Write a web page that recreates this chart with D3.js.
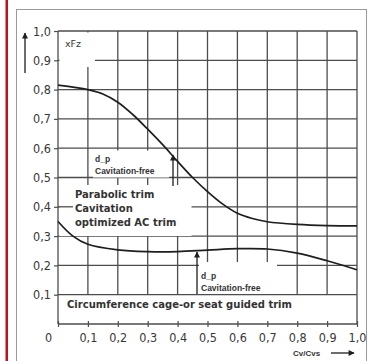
<!DOCTYPE html>
<html>
<head>
<meta charset="utf-8">
<script src="https://cdn.jsdelivr.net/npm/d3@7"></script>
<style>
  html, body { margin: 0; padding: 0; background: #fff; }
  svg { display: block; }
</style>
</head>
<body>
<svg id="chart" width="372" height="361"></svg>
<script>
// ── Data ──
const upperX = [0, 0.1, 0.15, 0.2, 0.25, 0.3, 0.35, 0.4, 0.45, 0.5, 0.55, 0.6, 0.65, 0.7, 0.8, 0.9, 1.0];
const upperY = [0.815, 0.80, 0.785, 0.757, 0.715, 0.665, 0.612, 0.555, 0.50, 0.452, 0.41, 0.378, 0.36, 0.349, 0.34, 0.336, 0.335];
const lowerX = [0, 0.05, 0.1, 0.2, 0.3, 0.4, 0.5, 0.6, 0.7, 0.8, 0.9, 1.0];
const lowerY = [0.35, 0.30, 0.272, 0.253, 0.247, 0.247, 0.252, 0.257, 0.256, 0.242, 0.216, 0.185];
const xTicks = [0, 0.1, 0.2, 0.3, 0.4, 0.5, 0.6, 0.7, 0.8, 0.9, 1.0];
const yTicks = [0.1, 0.2, 0.3, 0.4, 0.5, 0.6, 0.7, 0.8, 0.9, 1.0];
const labelParabolic = ['Parabolic trim', 'Cavitation', 'optimized AC trim'];
const labelCavFree = ['d_p', 'Cavitation-free'];
const labelCage = 'Circumference cage-or seat guided trim';

const svg = d3.select('#chart');
const x = d3.scaleLinear().domain([0, 1]).range([58, 357]);
const y = d3.scaleLinear().domain([0, 1]).range([324, 31]);
const fmt = d => d === 0 ? '0' : d.toFixed(1).replace('.', ',');
const ink = '#383838';
const gridCol = '#4d4d4d';

// ── Page frame ──
svg.append('rect').attr('x', 5.5).attr('y', 0).attr('width', 2.5).attr('height', 361).attr('fill', '#b8141c');
svg.append('rect').attr('x', 16.5).attr('y', 9.5).attr('width', 350).attr('height', 370)
  .attr('fill', 'none').attr('stroke', '#9a9a9a').attr('stroke-width', 1);

svg.append('defs').append('marker')
  .attr('id', 'head').attr('viewBox', '0 -5 10 10')
  .attr('refX', 9).attr('refY', 0).attr('orient', 'auto')
  .attr('markerWidth', 8).attr('markerHeight', 6).attr('markerUnits', 'userSpaceOnUse')
  .append('path').attr('d', 'M0,-5 L10,0 L0,5 Z').attr('fill', '#1e1e1e');

// ── Grid ──
const grid = svg.append('g').attr('stroke', gridCol).attr('stroke-width', 1.3);
grid.selectAll('.h').data(yTicks).join('line')
  .attr('x1', x(0)).attr('x2', x(1))
  .attr('y1', d => y(d)).attr('y2', d => y(d));
grid.selectAll('.v').data(xTicks.filter(d => d > 0 && d < 1)).join('line')
  .attr('x1', d => x(d)).attr('x2', d => x(d))
  .attr('y1', y(1)).attr('y2', y(0.1));
grid.append('line').attr('x1', x(1)).attr('x2', x(1)).attr('y1', y(1)).attr('y2', y(0));

// white patches where the labels sit on the grid
const patches = [
  [59.5, 32.5, 35.5, 34.5],
  [93, 150.5, 76, 27],
  [59.5, 185, 132, 51],
  [199, 262, 78, 32]
];
svg.append('g').selectAll('rect').data(patches).join('rect')
  .attr('x', d => d[0]).attr('y', d => d[1]).attr('width', d => d[2]).attr('height', d => d[3])
  .attr('fill', '#fff');
// short lead line for 0,4
svg.append('line').attr('x1', x(0)).attr('x2', 73).attr('y1', y(0.4)).attr('y2', y(0.4))
  .attr('stroke', gridCol).attr('stroke-width', 1.3);

// ── Axes ──
const tickFont = '"DejaVu Sans Condensed", "Liberation Sans Narrow", sans-serif';
const xAxis = svg.append('g').attr('transform', `translate(0,${y(0)})`)
  .call(d3.axisBottom(x).tickValues(xTicks).tickSize(3).tickFormat(fmt));
xAxis.select('.domain').attr('stroke', gridCol).attr('stroke-width', 1.3).attr('d', `M${x(0)},0H${x(1)}`);
xAxis.selectAll('.tick line').attr('y1', -3).attr('y2', 3).attr('stroke', gridCol).attr('stroke-width', 1.2);
xAxis.selectAll('.tick text')
  .attr('y', 9).attr('dy', '0.71em')
  .attr('dx', d => d === 0 ? -10 : 0)
  .attr('fill', ink).attr('font-size', 12.5).attr('font-family', tickFont);

const yAxis = svg.append('g').attr('transform', `translate(${x(0)},0)`)
  .call(d3.axisLeft(y).tickValues(yTicks).tickSize(4).tickPadding(3).tickFormat(fmt));
yAxis.select('.domain').attr('stroke', gridCol).attr('stroke-width', 1.3).attr('d', `M0,${y(1)}V${y(0)}`);
yAxis.selectAll('.tick line').attr('stroke', gridCol).attr('stroke-width', 1.2);
yAxis.selectAll('.tick text')
  .attr('fill', ink).attr('font-size', 12.5).attr('font-family', tickFont);

// ── Curves ──
const line = d3.line().x(d => x(d[0])).y(d => y(d[1])).curve(d3.curveCatmullRom.alpha(0.5));
svg.append('path').datum(d3.zip(upperX, upperY)).attr('d', line)
  .attr('fill', 'none').attr('stroke', '#1e1e1e').attr('stroke-width', 1.7);
svg.append('path').datum(d3.zip(lowerX, lowerY)).attr('d', line)
  .attr('fill', 'none').attr('stroke', '#1e1e1e').attr('stroke-width', 1.7);

// ── Arrows ──
const arrows = [
  [25, 73, 25, 33],
  [173, 186, 173, 155],
  [197, 294, 197, 252],
  [331, 353, 354, 353]
];
svg.append('g').selectAll('line').data(arrows).join('line')
  .attr('x1', d => d[0]).attr('y1', d => d[1]).attr('x2', d => d[2]).attr('y2', d => d[3])
  .attr('stroke', '#1e1e1e').attr('stroke-width', 1.3).attr('marker-end', 'url(#head)');

// ── Labels ──
const bold = '"DejaVu Sans", sans-serif';
svg.append('text').attr('x', 65).attr('y', 47).text('xFz')
  .attr('font-family', '"DejaVu Sans", sans-serif').attr('font-size', 9.5).attr('fill', ink);

function block(lines, x0, y0, lh, size, family) {
  const t = svg.append('text').attr('font-family', family).attr('font-weight', 'bold')
    .attr('font-size', size).attr('fill', '#333');
  t.selectAll('tspan').data(lines).join('tspan')
    .attr('x', x0).attr('y', (d, i) => y0 + i * lh).text(d => d);
}
block(labelCavFree, 95, 162, 12, 8.5, '"Liberation Sans", Arial, sans-serif');
block(labelCavFree, 201, 279, 12, 8.5, '"Liberation Sans", Arial, sans-serif');
block(labelParabolic, 75, 198, 14, 10, bold);
block([labelCage], 67, 308, 0, 10, bold);

svg.append('text').attr('x', 293).attr('y', 356).text('Cv/Cvs')
  .attr('font-family', '"Liberation Sans", Arial, sans-serif').attr('font-weight', 'bold')
  .attr('font-size', 8).attr('fill', '#333');
</script>
</body>
</html>
